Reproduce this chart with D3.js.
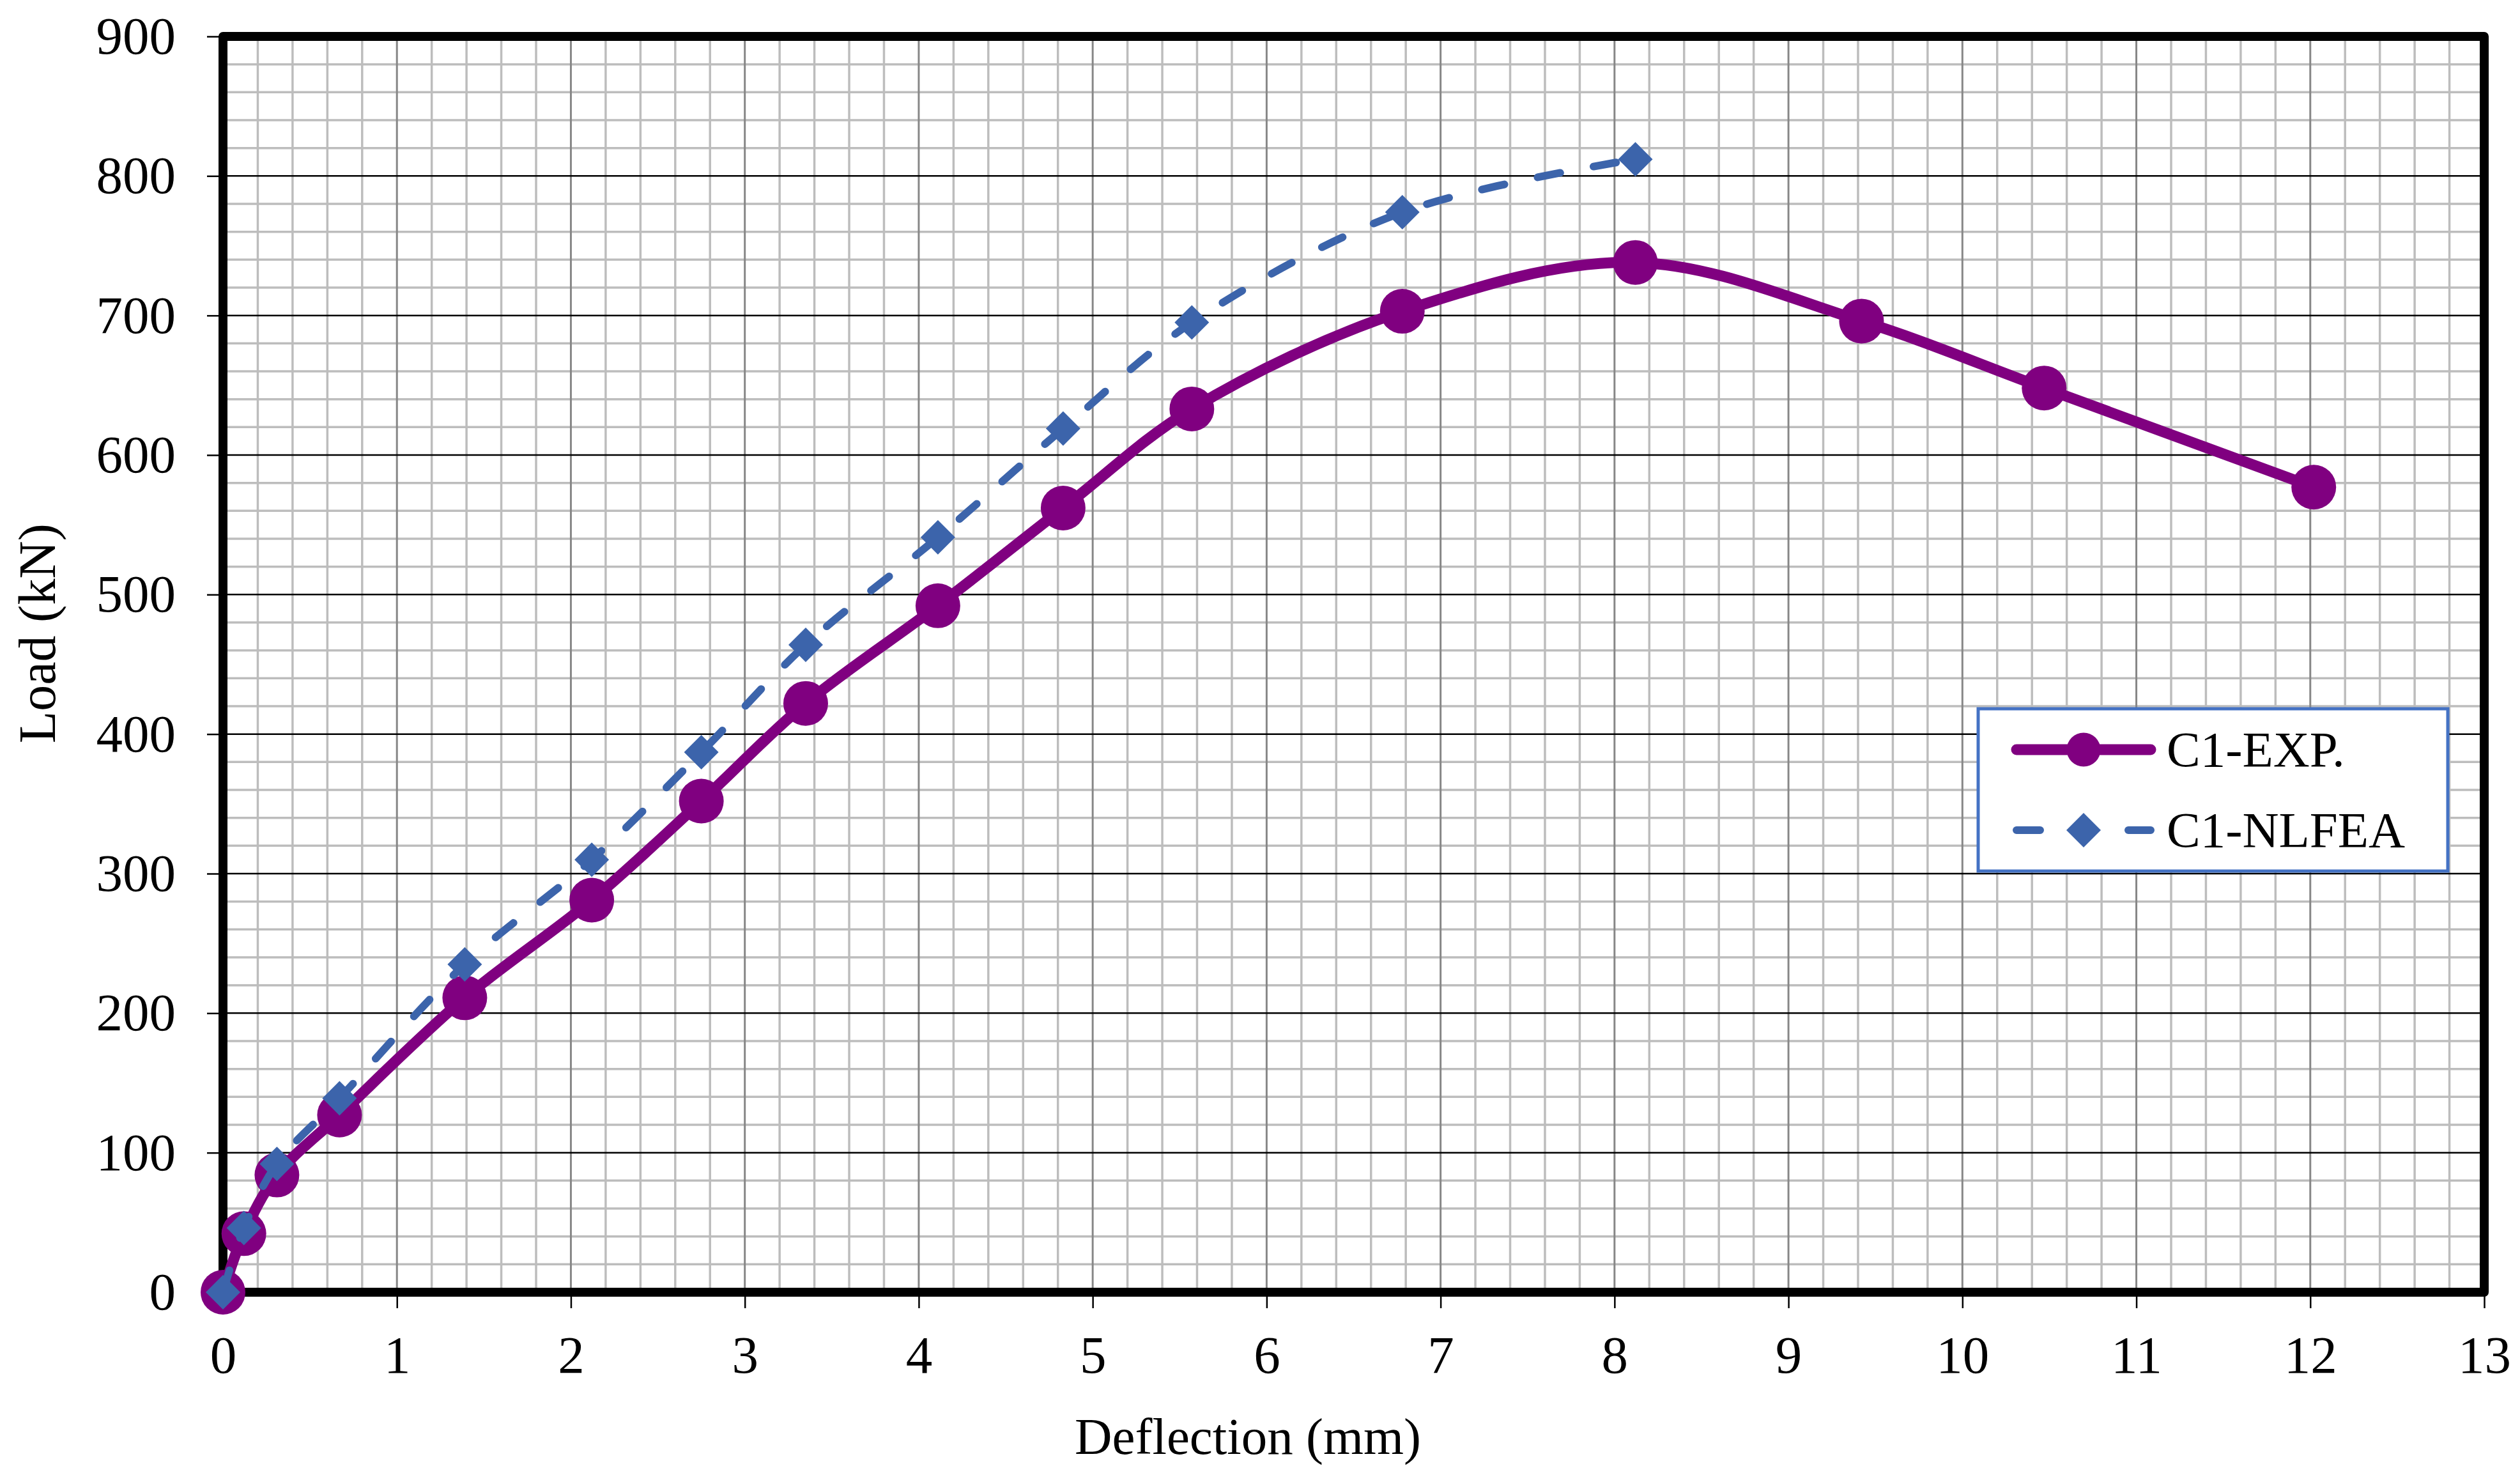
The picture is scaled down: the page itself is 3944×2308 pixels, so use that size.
<!DOCTYPE html>
<html>
<head>
<meta charset="utf-8">
<script src="https://cdn.jsdelivr.net/npm/d3@7"></script>
<style>
  html, body { margin: 0; padding: 0; background: #fff; }
  text { font-family: "Liberation Serif", "Times New Roman", serif; fill: #000; }
</style>
</head>
<body>
<svg id="chart" width="3944" height="2308"></svg>
<script>
// deflection (mm) of each load step
const deflection = [0, 0.12, 0.31, 0.67, 1.39, 2.12, 2.75, 3.35, 4.11, 4.83, 5.57, 6.78, 8.12, 9.42, 10.47, 12.02];
// C1-EXP. load (kN)
const loadExp = [0, 42, 84, 127, 211, 281, 352, 422, 492, 562, 633, 703, 738, 696, 648, 577];
// C1-NLFEA load (kN), shares the first 13 deflections
const loadFea = [0, 46, 92, 139, 235, 310, 387, 464, 541, 619, 695, 774, 812];

const xTicks = d3.range(0, 14);
const yTicks = d3.range(0, 1000, 100);
const seriesNames = ["C1-EXP.", "C1-NLFEA"];

const purple = "#800080";
const blue = "#3C64AB";

const plotL = 349, plotR = 3888, plotT = 57, plotB = 2022;
const x = d3.scaleLinear().domain([0, 13]).range([plotL, plotR]);
const y = d3.scaleLinear().domain([0, 900]).range([plotB, plotT]);

const svg = d3.select("#chart");
svg.append("rect").attr("width", 3944).attr("height", 2308).attr("fill", "#fff");

// minor grid
const grid = svg.append("g");
grid.append("g").selectAll("line")
    .data(x.ticks(65).filter(d => Math.abs(d - Math.round(d)) > 1e-6))
    .join("line")
    .attr("x1", d => x(d)).attr("x2", d => x(d))
    .attr("y1", plotT).attr("y2", plotB)
    .attr("stroke", "#bdbdbd").attr("stroke-width", 3.5);
grid.append("g").selectAll("line")
    .data(y.ticks(45).filter(d => d % 100 !== 0))
    .join("line")
    .attr("x1", plotL).attr("x2", plotR)
    .attr("y1", d => y(d)).attr("y2", d => y(d))
    .attr("stroke", "#bdbdbd").attr("stroke-width", 3.5);

// major grid
grid.append("g").selectAll("line")
    .data(xTicks)
    .join("line")
    .attr("x1", d => x(d)).attr("x2", d => x(d))
    .attr("y1", plotT).attr("y2", plotB)
    .attr("stroke", "#878787").attr("stroke-width", 3);
grid.append("g").selectAll("line")
    .data(yTicks)
    .join("line")
    .attr("x1", plotL).attr("x2", plotR)
    .attr("y1", d => y(d)).attr("y2", d => y(d))
    .attr("stroke", "#000").attr("stroke-width", 2.5);

// axes
const xAxis = svg.append("g")
    .attr("transform", `translate(0,${plotB})`)
    .call(d3.axisBottom(x).tickValues(xTicks).tickSize(25).tickPadding(42).tickFormat(d3.format("d")));
const yAxis = svg.append("g")
    .attr("transform", `translate(${plotL},0)`)
    .call(d3.axisLeft(y).tickValues(yTicks).tickSize(25).tickPadding(49).tickFormat(d3.format("d")));
[xAxis, yAxis].forEach(a => {
    a.select(".domain").remove();
    a.selectAll(".tick line").attr("stroke", "#000").attr("stroke-width", 2.5);
    a.selectAll(".tick text")
        .attr("fill", "#000")
        .style("font-family", '"Liberation Serif", "Times New Roman", serif')
        .style("font-size", "83px");
});

// plot area border
svg.append("rect")
    .attr("x", plotL).attr("y", plotT)
    .attr("width", plotR - plotL).attr("height", plotB - plotT)
    .attr("fill", "none")
    .attr("stroke", "#000").attr("stroke-width", 14)
    .attr("stroke-linejoin", "round");

// axis titles
svg.append("text")
    .attr("x", 1953).attr("y", 2275)
    .attr("text-anchor", "middle")
    .style("font-size", "81px")
    .text("Deflection (mm)");
svg.append("text")
    .attr("transform", "translate(86,991) rotate(-90)")
    .attr("text-anchor", "middle")
    .style("font-size", "82px")
    .text("Load (kN)");

// series
const curve = d3.curveCatmullRom.alpha(0.5);
const expPts = deflection.map((d, i) => [d, loadExp[i]]);
const feaPts = loadFea.map((v, i) => [deflection[i], v]);
const line = d3.line().x(d => x(d[0])).y(d => y(d[1])).curve(curve);
const diamond = r => `M0,${-r}L${r},0L0,${r}L${-r},0Z`;

svg.append("path")
    .attr("d", line(expPts))
    .attr("fill", "none")
    .attr("stroke", purple).attr("stroke-width", 17)
    .attr("stroke-linecap", "round").attr("stroke-linejoin", "round");
svg.append("g").selectAll("circle")
    .data(expPts)
    .join("circle")
    .attr("cx", d => x(d[0])).attr("cy", d => y(d[1]))
    .attr("r", 35)
    .attr("fill", purple);

svg.append("path")
    .attr("d", line(feaPts))
    .attr("fill", "none")
    .attr("stroke", blue).attr("stroke-width", 12)
    .attr("stroke-dasharray", "36 53")
    .attr("stroke-linecap", "round");
svg.append("g").selectAll("path")
    .data(feaPts)
    .join("path")
    .attr("transform", d => `translate(${x(d[0])},${y(d[1])})`)
    .attr("d", diamond(27))
    .attr("fill", blue);

// legend
const legend = svg.append("g");
legend.append("rect")
    .attr("x", 3096).attr("y", 1109)
    .attr("width", 735).attr("height", 254)
    .attr("fill", "#fff")
    .attr("stroke", "#4472C4").attr("stroke-width", 5);

const rowY = [1173, 1299];
legend.append("line")
    .attr("x1", 3156).attr("x2", 3366)
    .attr("y1", rowY[0]).attr("y2", rowY[0])
    .attr("stroke", purple).attr("stroke-width", 17).attr("stroke-linecap", "round");
legend.append("circle")
    .attr("cx", 3261).attr("cy", rowY[0]).attr("r", 26.5)
    .attr("fill", purple);

legend.append("line")
    .attr("x1", 3156).attr("x2", 3366)
    .attr("y1", rowY[1]).attr("y2", rowY[1])
    .attr("stroke", blue).attr("stroke-width", 12)
    .attr("stroke-dasharray", "37 138")
    .attr("stroke-linecap", "round");
legend.append("path")
    .attr("transform", `translate(3261,${rowY[1]})`)
    .attr("d", diamond(27))
    .attr("fill", blue);

legend.selectAll("text")
    .data(seriesNames)
    .join("text")
    .attr("x", 3391)
    .attr("y", (d, i) => rowY[i] + 26)
    .style("font-size", "79px")
    .text(d => d);
</script>
</body>
</html>
